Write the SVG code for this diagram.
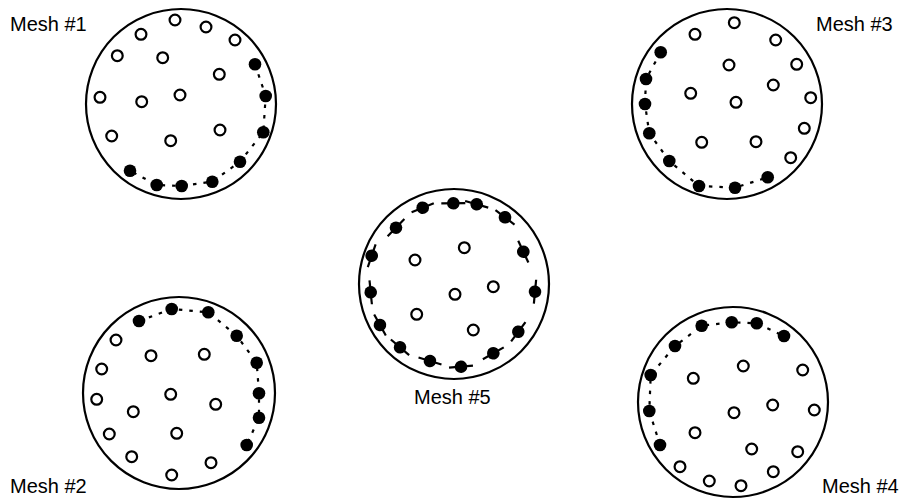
<svg xmlns="http://www.w3.org/2000/svg" xmlns:xlink="http://www.w3.org/1999/xlink" width="909" height="499" viewBox="0 0 909 499">
<style>
.ring{fill:none;stroke:#000;stroke-width:2.2}
.o{fill:#fff;stroke:#000;stroke-width:2.2}
.f{fill:#000}
.dash{fill:none;stroke:#000;stroke-width:2.2;stroke-dasharray:3.5 7}
.tick{stroke:#000;stroke-width:2.2}
.lbl{font-family:"Liberation Sans",Arial,sans-serif;font-size:20px;fill:#000}
</style>
<defs>
<circle id="oc" r="5.4" class="o"/>
<circle id="fc" r="6.3" class="f"/>
<g id="ft"><line x1="-12" y1="0" x2="12" y2="0" class="tick"/><circle r="6.3" class="f"/></g>
</defs>
<rect width="909" height="499" fill="#fff"/>
<g id="connectors">
<polyline class="dash" points="255,64.3 265.7,96 263.3,132.3 240,161.7 212.3,181.7 181.7,186 156.7,185 130,170.7"/>
<polyline class="dash" points="660.7,52.3 646,79 645,104 649.3,133.3 669.3,161 699,186 735,187.7 767.7,177.3"/>
<polyline class="dash" points="139,321 171.7,309 208.3,312.3 236.7,335.7 256.7,362.7 259,393.3 259,417.7 246.7,445"/>
<polyline class="dash" points="660,445 649.3,411 650.7,375 675,346 701.7,325.7 731.7,322.3 756.7,323.3 784,336"/>
</g>
<g id="mesh1">
<circle class="ring" cx="181" cy="104" r="95"/>
<use href="#oc" x="175" y="20"/><use href="#oc" x="141" y="34.3"/><use href="#oc" x="206" y="27"/><use href="#oc" x="235" y="40"/>
<use href="#oc" x="117.3" y="55.7"/><use href="#oc" x="162.7" y="57.7"/><use href="#oc" x="219.3" y="74.3"/><use href="#oc" x="100" y="97.3"/>
<use href="#oc" x="141.7" y="101.7"/><use href="#oc" x="180" y="95"/><use href="#oc" x="111.7" y="136"/><use href="#oc" x="170.7" y="140.7"/><use href="#oc" x="220" y="130"/>
<use href="#fc" x="255" y="64.3"/><use href="#fc" x="265.7" y="96"/><use href="#fc" x="263.3" y="132.3"/><use href="#fc" x="240" y="161.7"/>
<use href="#fc" x="212.3" y="181.7"/><use href="#fc" x="181.7" y="186"/><use href="#fc" x="156.7" y="185"/><use href="#fc" x="130" y="170.7"/>
<text class="lbl" x="10" y="31">Mesh #1</text>
</g>
<g id="mesh3">
<circle class="ring" cx="727" cy="104" r="95"/>
<use href="#oc" x="734.3" y="22.7"/><use href="#oc" x="695" y="34.3"/><use href="#oc" x="775.7" y="40"/><use href="#oc" x="729" y="65"/>
<use href="#oc" x="796.7" y="64.3"/><use href="#oc" x="773.3" y="85"/><use href="#oc" x="690.7" y="93.3"/><use href="#oc" x="736" y="102.3"/>
<use href="#oc" x="810.7" y="97.7"/><use href="#oc" x="804.3" y="128.3"/><use href="#oc" x="701.7" y="142.3"/><use href="#oc" x="756" y="141.7"/><use href="#oc" x="790.7" y="157.7"/>
<use href="#fc" x="660.7" y="52.3"/><use href="#fc" x="646" y="79"/><use href="#fc" x="645" y="104"/><use href="#fc" x="649.3" y="133.3"/>
<use href="#fc" x="669.3" y="161"/><use href="#fc" x="699" y="186"/><use href="#fc" x="735" y="187.7"/><use href="#fc" x="767.7" y="177.3"/>
<text class="lbl" x="816" y="31">Mesh #3</text>
</g>
<g id="mesh5">
<circle class="ring" cx="454" cy="284" r="95"/>
<use href="#oc" x="464.3" y="247.7"/><use href="#oc" x="415" y="260"/><use href="#oc" x="493.3" y="286.7"/>
<use href="#oc" x="455" y="294.3"/><use href="#oc" x="416.7" y="314.3"/><use href="#oc" x="473.3" y="330"/>
<use href="#ft" transform="translate(422.7,207.7) rotate(-22.3)"/>
<use href="#ft" transform="translate(453.3,203.3) rotate(-0.5)"/>
<use href="#ft" transform="translate(476.7,204.3) rotate(15.9)"/>
<use href="#ft" transform="translate(505,217.3) rotate(37.4)"/>
<use href="#ft" transform="translate(396,227.7) rotate(-45.8)"/>
<use href="#ft" transform="translate(523.3,251.7) rotate(65)"/>
<use href="#ft" transform="translate(371.7,255.7) rotate(-71)"/>
<use href="#ft" transform="translate(535,291.7) rotate(95.4)"/>
<use href="#ft" transform="translate(370.7,292.3) rotate(264.3)"/>
<use href="#ft" transform="translate(380,325) rotate(241)"/>
<use href="#ft" transform="translate(518.3,331.7) rotate(126.6)"/>
<use href="#ft" transform="translate(400,347.3) rotate(220.5)"/>
<use href="#ft" transform="translate(493.3,353.3) rotate(150.4)"/>
<use href="#ft" transform="translate(430,361) rotate(197.3)"/>
<use href="#ft" transform="translate(461,366.7) rotate(175.2)"/>
<text class="lbl" x="414" y="404">Mesh #5</text>
</g>
<g id="mesh2">
<circle class="ring" cx="179" cy="393" r="96"/>
<use href="#oc" x="116" y="340"/><use href="#oc" x="151" y="355.7"/><use href="#oc" x="204.3" y="354.3"/><use href="#oc" x="101.7" y="369"/>
<use href="#oc" x="170.7" y="394.3"/><use href="#oc" x="96.7" y="399.3"/><use href="#oc" x="215.7" y="404.3"/><use href="#oc" x="133.3" y="411.7"/>
<use href="#oc" x="109.3" y="434"/><use href="#oc" x="176.7" y="433.3"/><use href="#oc" x="131.7" y="456.7"/><use href="#oc" x="211" y="462.7"/><use href="#oc" x="171.7" y="475"/>
<use href="#fc" x="139" y="321"/><use href="#fc" x="171.7" y="309"/><use href="#fc" x="208.3" y="312.3"/><use href="#fc" x="236.7" y="335.7"/>
<use href="#fc" x="256.7" y="362.7"/><use href="#fc" x="259" y="393.3"/><use href="#fc" x="259" y="417.7"/><use href="#fc" x="246.7" y="445"/>
<text class="lbl" x="10" y="493">Mesh #2</text>
</g>
<g id="mesh4">
<circle class="ring" cx="733" cy="402" r="95"/>
<use href="#oc" x="743.3" y="366"/><use href="#oc" x="802.7" y="370"/><use href="#oc" x="693.3" y="378.3"/><use href="#oc" x="772.7" y="405"/>
<use href="#oc" x="734" y="412.7"/><use href="#oc" x="814.3" y="410"/><use href="#oc" x="695" y="432.7"/><use href="#oc" x="751.7" y="449"/>
<use href="#oc" x="797.7" y="451.7"/><use href="#oc" x="680" y="466.7"/><use href="#oc" x="773.3" y="471.7"/><use href="#oc" x="709.3" y="481"/><use href="#oc" x="741" y="485.7"/>
<use href="#fc" x="660" y="445"/><use href="#fc" x="649.3" y="411"/><use href="#fc" x="650.7" y="375"/><use href="#fc" x="675" y="346"/>
<use href="#fc" x="701.7" y="325.7"/><use href="#fc" x="731.7" y="322.3"/><use href="#fc" x="756.7" y="323.3"/><use href="#fc" x="784" y="336"/>
<text class="lbl" x="822" y="493">Mesh #4</text>
</g>
</svg>
